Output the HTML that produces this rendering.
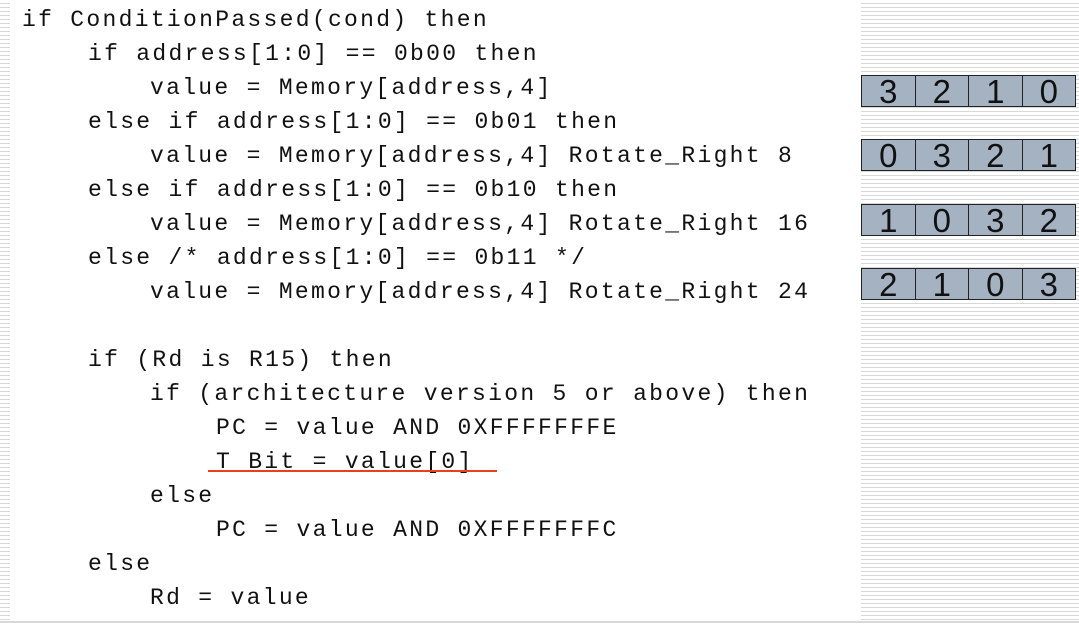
<!DOCTYPE html>
<html><head><meta charset="utf-8"><style>
html,body{margin:0;padding:0;background:#fff;}
body{width:1079px;height:625px;position:relative;overflow:hidden;}
.lstrip{position:absolute;left:0;top:0;width:10px;height:620px;background:repeating-linear-gradient(to bottom,#fff 0,#fff 3px,#d8d8d8 3px,#d8d8d8 4px);}
.rstrip{position:absolute;left:861px;top:0;width:218px;height:620px;background:repeating-linear-gradient(to bottom,#fff 0,#fff 3px,#d8d8d8 3px,#d8d8d8 4px);}
.bottom{position:absolute;left:0;top:621px;width:1079px;height:2px;background:#d8d8d8;}
.t{position:absolute;font-family:"Liberation Mono",monospace;font-size:23px;letter-spacing:2.3px;line-height:20px;color:#111;white-space:pre;}
.box{position:absolute;left:861px;width:213px;height:30px;border:1px solid #222;background:#a5b2c2;display:flex;}
.box div{flex:1;border-left:1px solid #222;font-family:"Liberation Sans",sans-serif;font-size:33px;line-height:31px;text-align:center;color:#111;}
.box div:first-child{border-left:none;}
.ul{position:absolute;left:208px;top:470px;width:289px;height:2px;background:#e8401a;}
</style></head><body>
<div class="lstrip"></div><div class="rstrip"></div><div class="bottom"></div>
<div class="t" style="left:22px;top:10px">if ConditionPassed(cond) then</div>
<div class="t" style="left:88px;top:44px">if address[1:0] == 0b00 then</div>
<div class="t" style="left:150px;top:78px">value = Memory[address,4]</div>
<div class="t" style="left:88px;top:112px">else if address[1:0] == 0b01 then</div>
<div class="t" style="left:150px;top:146px">value = Memory[address,4] Rotate_Right 8</div>
<div class="t" style="left:88px;top:180px">else if address[1:0] == 0b10 then</div>
<div class="t" style="left:150px;top:214px">value = Memory[address,4] Rotate_Right 16</div>
<div class="t" style="left:88px;top:248px">else /* address[1:0] == 0b11 */</div>
<div class="t" style="left:150px;top:282px">value = Memory[address,4] Rotate_Right 24</div>
<div class="t" style="left:88px;top:350px">if (Rd is R15) then</div>
<div class="t" style="left:150px;top:384px">if (architecture version 5 or above) then</div>
<div class="t" style="left:216px;top:418px">PC = value AND 0XFFFFFFFE</div>
<div class="t" style="left:216px;top:452px">T Bit = value[0]</div>
<div class="ul"></div>
<div class="t" style="left:150px;top:486px">else</div>
<div class="t" style="left:216px;top:520px">PC = value AND 0XFFFFFFFC</div>
<div class="t" style="left:88px;top:554px">else</div>
<div class="t" style="left:150px;top:588px">Rd = value</div>
<div class="box" style="top:75px"><div>3</div><div>2</div><div>1</div><div>0</div></div>
<div class="box" style="top:139px"><div>0</div><div>3</div><div>2</div><div>1</div></div>
<div class="box" style="top:204px"><div>1</div><div>0</div><div>3</div><div>2</div></div>
<div class="box" style="top:268px"><div>2</div><div>1</div><div>0</div><div>3</div></div>
</body></html>
